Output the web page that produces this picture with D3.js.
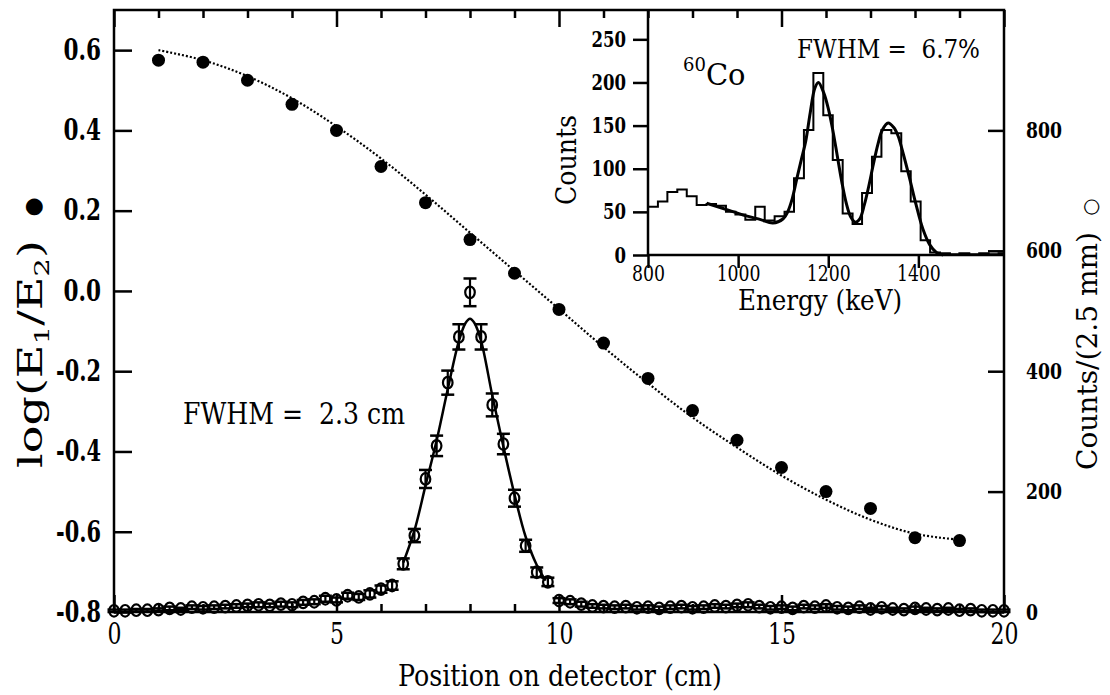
<!DOCTYPE html>
<html>
<head>
<meta charset="utf-8">
<script src="https://cdn.jsdelivr.net/npm/d3@7"></script>
<style>
body { margin: 0; background: #fff; }
svg text { font-family: "DejaVu Serif"; fill: #000; }
</style>
</head>
<body>
<div id="chart"></div>
<script>
// log(E1/E2) points, filled circles
var logPos = [1, 2, 3, 4, 5, 6, 7, 8, 9, 10, 11, 12, 13, 14, 15, 16, 17, 18, 19];
var logVals = [0.575, 0.57, 0.525, 0.465, 0.40, 0.31, 0.22, 0.128, 0.044, -0.046, -0.13, -0.218, -0.298, -0.372, -0.44, -0.50, -0.542, -0.615, -0.622];
// dotted fit through them
var logFitPos = [1, 2, 3, 4, 5, 6, 7, 8, 9, 10, 11, 12, 13, 14, 15, 16, 17, 18, 19];
var logFitVals = [0.60, 0.575, 0.535, 0.48, 0.41, 0.33, 0.24, 0.145, 0.05, -0.045, -0.14, -0.23, -0.315, -0.39, -0.46, -0.52, -0.57, -0.605, -0.62];

// counts per 2.5 mm, open circles
var cntPos = [0, 0.25, 0.5, 0.75, 1, 1.25, 1.5, 1.75, 2, 2.25, 2.5, 2.75, 3, 3.25, 3.5, 3.75, 4, 4.25, 4.5, 4.75,
  5, 5.25, 5.5, 5.75, 6, 6.25, 6.5, 6.75, 7, 7.25, 7.5, 7.75, 8, 8.25, 8.5, 8.75, 9, 9.25, 9.5, 9.75,
  10, 10.25, 10.5, 10.75, 11, 11.25, 11.5, 11.75, 12, 12.25, 12.5, 12.75, 13, 13.25, 13.5, 13.75, 14, 14.25, 14.5, 14.75,
  15, 15.25, 15.5, 15.75, 16, 16.25, 16.5, 16.75, 17, 17.25, 17.5, 17.75, 18, 18.25, 18.5, 18.75, 19, 19.25, 19.5, 19.75, 20];
var cntVals = [2, 2, 3, 3, 4, 6, 5, 8, 7, 8, 9, 10, 11, 12, 11, 13, 12, 16, 17, 22,
  20, 27, 25, 30, 38, 44, 80, 127, 221, 276, 381, 457, 531, 457, 344, 279, 189, 110, 66, 50,
  19, 17, 13, 10, 9, 8, 9, 7, 8, 6, 8, 9, 7, 8, 10, 9, 11, 12, 9, 7,
  8, 6, 9, 8, 10, 7, 6, 8, 5, 7, 5, 4, 6, 5, 4, 5, 3, 4, 2, 2, 2];
var cntErrs = [2, 2, 2, 2, 2, 3, 2, 3, 3, 3, 3, 3, 3, 4, 3, 4, 4, 4, 4, 5,
  4, 5, 5, 6, 6, 7, 9, 11, 15, 17, 20, 21, 23, 21, 19, 17, 14, 10, 8, 7,
  4, 4, 4, 3, 3, 3, 3, 3, 3, 3, 3, 3, 3, 3, 3, 3, 3, 4, 3, 3,
  3, 3, 3, 3, 3, 3, 3, 3, 2, 3, 2, 2, 3, 2, 2, 2, 2, 2, 2, 2, 2];
// solid fit through the peak
var peakFitPos = [6.5, 6.75, 7, 7.25, 7.5, 7.75, 7.9, 8, 8.1, 8.25, 8.5, 8.75, 9, 9.25, 9.5, 9.7];
var peakFitVals = [82, 135, 210, 285, 370, 450, 480, 487, 480, 450, 360, 275, 195, 125, 78, 52];

// inset: 60Co spectrum histogram (bin left edges, keV)
var binEdges = [800, 822, 843, 865, 886, 908, 930, 951, 973, 994, 1016, 1038, 1059, 1081, 1103, 1124, 1146, 1167, 1189, 1210,
  1232, 1254, 1275, 1297, 1318, 1340, 1362, 1383, 1405, 1426, 1448, 1470, 1491, 1513, 1535, 1556, 1578];
var binCounts = [56, 62, 73, 76, 68, 58, 59, 57, 50, 47, 41, 56, 40, 45, 50, 89, 145, 211, 162, 110,
  48, 36, 72, 114, 145, 141, 97, 62, 17, 3, 2, 1, 2, 1, 2, 1, 2];
var specFitE = [930, 960, 990, 1020, 1050, 1077, 1100, 1110, 1120, 1130, 1140, 1150, 1160, 1170, 1178, 1190, 1200, 1210, 1220, 1230,
  1240, 1250, 1260, 1270, 1280, 1290, 1300, 1310, 1320, 1333, 1345, 1355, 1365, 1380, 1395, 1410, 1425, 1440, 1455];
var specFitC = [60, 55, 50, 45, 41, 37, 42, 50, 65, 88, 110, 132, 165, 193, 200, 188, 170, 145, 115, 85,
  60, 44, 38, 42, 58, 80, 105, 128, 145, 153, 148, 138, 120, 90, 58, 30, 12, 3, 0];

var leftTicks = [-0.8, -0.6, -0.4, -0.2, 0.0, 0.2, 0.4, 0.6];
var rightTicks = [0, 200, 400, 600, 800];
var xMajor = [0, 5, 10, 15, 20];
var xMinor = [1, 2, 3, 4, 6, 7, 8, 9, 11, 12, 13, 14, 16, 17, 18, 19];
var insetYTicks = [0, 50, 100, 150, 200, 250];
var insetXTicks = [800, 1000, 1200, 1400];

var W = 1110, H = 695;
var svg = d3.select("#chart").append("svg")
    .attr("width", W).attr("height", H);
svg.append("rect").attr("width", W).attr("height", H).attr("fill", "#fff");

var x = d3.scaleLinear().domain([0, 20]).range([114, 1004]);
var yL = d3.scaleLinear().domain([-0.8, 0.7]).range([612, 10]);
var yR = d3.scaleLinear().domain([0, 1000]).range([612, 10]);
var ix = d3.scaleLinear().domain([800, 1590]).range([648, 1004]);
var iy = d3.scaleLinear().domain([0, 284]).range([255, 10]);

// charW: squeeze each label to roughly a Times-like width
function styleAxis(g, size, weight, charW) {
    g.attr("font-family", null);
    g.select(".domain").remove();
    g.selectAll(".tick line").attr("stroke", "#000").attr("stroke-width", 2.5);
    var t = g.selectAll("text").attr("font-size", size).attr("font-weight", weight)
        .attr("fill", "#000").style("font-family", "'DejaVu Serif'");
    if (charW) {
        t.attr("lengthAdjust", "spacingAndGlyphs")
            .attr("textLength", function () {
                var s = this.textContent;
                return s.replace(/[.\-]/g, "").length * charW + (s.match(/[.\-]/g) || []).length * charW * 0.5;
            });
    }
}

// main frame
svg.append("rect")
    .attr("x", 114).attr("y", 10).attr("width", 890).attr("height", 602)
    .attr("fill", "none").attr("stroke", "#000").attr("stroke-width", 2.5);

// bottom axis
svg.append("g").attr("transform", "translate(0,612)")
    .call(d3.axisBottom(x).tickValues(xMajor).tickSize(-17).tickPadding(11).tickFormat(d3.format("d")))
    .call(styleAxis, "30px", "normal", 14);
svg.append("g").attr("transform", "translate(0,612)")
    .call(d3.axisBottom(x).tickValues(xMinor).tickSize(-8).tickFormat(""))
    .call(styleAxis, "1px", "normal");
// top axis
svg.append("g").attr("transform", "translate(0,10)")
    .call(d3.axisTop(x).tickValues(xMajor).tickSize(-17).tickFormat(""))
    .call(styleAxis, "1px", "normal");
svg.append("g").attr("transform", "translate(0,10)")
    .call(d3.axisTop(x).tickValues(xMinor).tickSize(-8).tickFormat(""))
    .call(styleAxis, "1px", "normal");
// left axis
svg.append("g").attr("transform", "translate(114,0)")
    .call(d3.axisLeft(yL).tickValues(leftTicks).tickSize(-18).tickPadding(13)
        .tickFormat(function (d) { return d.toFixed(1); }))
    .call(styleAxis, "29px", "bold", 15);
// right axis
svg.append("g").attr("transform", "translate(1004,0)")
    .call(d3.axisRight(yR).tickValues(rightTicks).tickSize(-16).tickPadding(22).tickFormat(d3.format("d")))
    .call(styleAxis, "22px", "bold", 12);

// dotted fit + filled points
svg.append("path")
    .datum(logFitPos.map(function (p, i) { return [p, logFitVals[i]]; }))
    .attr("fill", "none").attr("stroke", "#000").attr("stroke-width", 2.2)
    .attr("stroke-dasharray", "2,2")
    .attr("d", d3.line().x(function (d) { return x(d[0]); }).y(function (d) { return yL(d[1]); })
        .curve(d3.curveCatmullRom));
svg.append("g").selectAll("circle")
    .data(logPos)
    .enter().append("circle")
    .attr("cx", function (d) { return x(d); })
    .attr("cy", function (d, i) { return yL(logVals[i]); })
    .attr("r", 6.5).attr("fill", "#000");

// peak fit line
svg.append("path")
    .datum(peakFitPos.map(function (p, i) { return [p, peakFitVals[i]]; }))
    .attr("fill", "none").attr("stroke", "#000").attr("stroke-width", 2.5)
    .attr("d", d3.line().x(function (d) { return x(d[0]); }).y(function (d) { return yR(d[1]); })
        .curve(d3.curveCatmullRom));

// counts with error bars
var pts = svg.append("g").selectAll("g")
    .data(cntPos)
    .enter().append("g");
pts.append("line")
    .attr("x1", function (d) { return x(d); }).attr("x2", function (d) { return x(d); })
    .attr("y1", function (d, i) { return yR(cntVals[i] - cntErrs[i]); })
    .attr("y2", function (d, i) { return yR(cntVals[i] + cntErrs[i]); })
    .attr("stroke", "#000").attr("stroke-width", 2.2);
[-1, 1].forEach(function (s) {
    pts.append("line")
        .attr("x1", function (d) { return x(d) - 6.5; }).attr("x2", function (d) { return x(d) + 6.5; })
        .attr("y1", function (d, i) { return yR(cntVals[i] + s * cntErrs[i]); })
        .attr("y2", function (d, i) { return yR(cntVals[i] + s * cntErrs[i]); })
        .attr("stroke", "#000").attr("stroke-width", 2.5);
});
pts.append("ellipse")
    .attr("cx", function (d) { return x(d); })
    .attr("cy", function (d, i) { return yR(cntVals[i]); })
    .attr("rx", 4.8).attr("ry", 5.8)
    .attr("fill", "none").attr("stroke", "#000").attr("stroke-width", 2.2);

svg.append("text")
    .attr("x", 183).attr("y", 424)
    .attr("font-size", "29px")
    .attr("xml:space", "preserve")
    .attr("textLength", 222).attr("lengthAdjust", "spacingAndGlyphs")
    .text("FWHM =  2.3 cm");

// axis titles
svg.append("text")
    .attr("x", 398).attr("y", 686)
    .attr("font-size", "30px")
    .attr("textLength", 324).attr("lengthAdjust", "spacingAndGlyphs")
    .text("Position on detector (cm)");

// left title: stretched along its baseline to the span it has in the picture
var lt = svg.append("text")
    .attr("font-size", "33px");
lt.append("tspan").text("log(E");
lt.append("tspan").attr("font-size", "21px").attr("dy", 7).text("1");
lt.append("tspan").attr("dy", -7).text("/E");
lt.append("tspan").attr("font-size", "21px").attr("dy", 7).text("2");
lt.append("tspan").attr("dy", -7).text(")");
var ltLen = lt.node().getComputedTextLength();
lt.attr("transform", "translate(42,468) rotate(-90) scale(" + (228 / ltLen) + ",1)");
svg.append("text")
    .attr("transform", "translate(40,207) rotate(-90)")
    .attr("text-anchor", "middle").attr("font-size", "22px")
    .style("font-family", "'DejaVu Sans'")
    .text("●");

svg.append("text")
    .attr("transform", "translate(1097,470) rotate(-90)")
    .attr("font-size", "28px")
    .attr("textLength", 238).attr("lengthAdjust", "spacingAndGlyphs")
    .text("Counts/(2.5 mm)");
svg.append("text")
    .attr("transform", "translate(1097,207) rotate(-90)")
    .attr("text-anchor", "middle").attr("font-size", "20px")
    .style("font-family", "'DejaVu Sans'")
    .text("○");

// ---- inset ----
var inset = svg.append("g");
inset.append("line").attr("x1", 648).attr("x2", 648).attr("y1", 10).attr("y2", 255)
    .attr("stroke", "#000").attr("stroke-width", 2.5);
inset.append("line").attr("x1", 648).attr("x2", 1004).attr("y1", 255).attr("y2", 255)
    .attr("stroke", "#000").attr("stroke-width", 2.5);
inset.append("g").attr("transform", "translate(648,0)")
    .call(d3.axisLeft(iy).tickValues(insetYTicks).tickSize(15).tickPadding(7).tickFormat(d3.format("d")))
    .call(styleAxis, "22px", "bold", 11.5);
inset.append("g").attr("transform", "translate(0,255)")
    .call(d3.axisBottom(ix).tickValues(insetXTicks).tickSize(13).tickPadding(-3).tickFormat(d3.format("d")))
    .call(styleAxis, "23px", "normal", 11);

// histogram as steps
var histPts = binEdges.map(function (e, i) { return [e, binCounts[i]]; });
histPts.push([1590, binCounts[binCounts.length - 1]]);
inset.append("path")
    .datum(histPts)
    .attr("fill", "none").attr("stroke", "#000").attr("stroke-width", 2)
    .attr("d", d3.line().x(function (d) { return ix(d[0]); }).y(function (d) { return iy(d[1]); })
        .curve(d3.curveStepAfter));
inset.append("path")
    .datum(specFitE.map(function (e, i) { return [e, specFitC[i]]; }))
    .attr("fill", "none").attr("stroke", "#000").attr("stroke-width", 3)
    .attr("d", d3.line().x(function (d) { return ix(d[0]); }).y(function (d) { return iy(d[1]); })
        .curve(d3.curveCatmullRom));

inset.append("text")
    .attr("transform", "translate(576,205) rotate(-90)")
    .attr("font-size", "28px")
    .attr("textLength", 90).attr("lengthAdjust", "spacingAndGlyphs")
    .text("Counts");
inset.append("text")
    .attr("x", 738).attr("y", 310)
    .attr("font-size", "28px")
    .attr("textLength", 164).attr("lengthAdjust", "spacingAndGlyphs")
    .text("Energy (keV)");
var co = inset.append("text").attr("x", 683).attr("y", 85).attr("font-size", "29px");
co.append("tspan").attr("font-size", "18px").attr("dy", -14).text("60");
co.append("tspan").attr("dy", 14).text("Co");
inset.append("text")
    .attr("x", 797).attr("y", 58).attr("font-size", "26px")
    .attr("xml:space", "preserve")
    .attr("textLength", 183).attr("lengthAdjust", "spacingAndGlyphs")
    .text("FWHM =  6.7%");
</script>
</body>
</html>
